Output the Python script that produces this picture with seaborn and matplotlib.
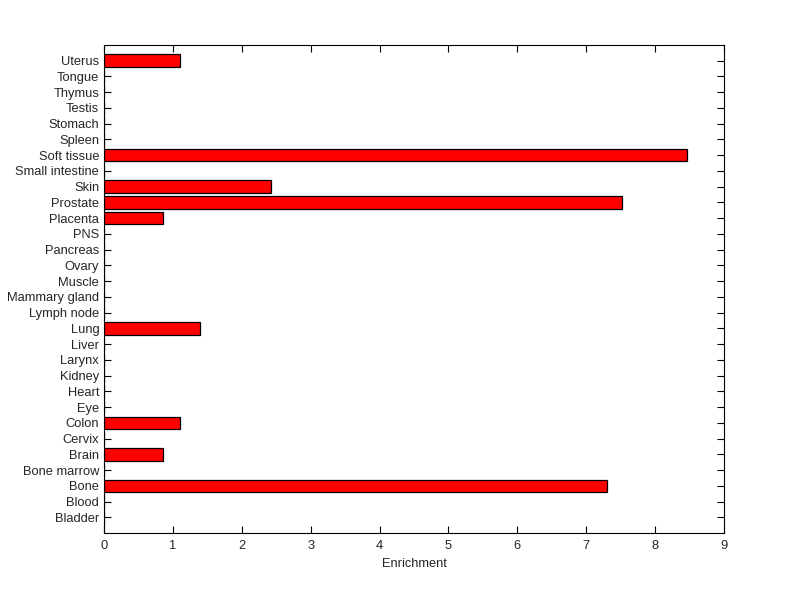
import matplotlib
matplotlib.use("Agg")
import matplotlib.pyplot as plt
import seaborn as sns
import pandas as pd

# tissues, bottom to top as in the picture
tissues = ["Bladder", "Blood", "Bone", "Bone marrow", "Brain", "Cervix", "Colon",
           "Eye", "Heart", "Kidney", "Larynx", "Liver", "Lung", "Lymph node",
           "Mammary gland", "Muscle", "Ovary", "Pancreas", "PNS", "Placenta",
           "Prostate", "Skin", "Small intestine", "Soft tissue", "Spleen",
           "Stomach", "Testis", "Thymus", "Tongue", "Uterus"]
enrichment = [0, 0, 7.30, 0, 0.85, 0, 1.11,
              0, 0, 0, 0, 0, 1.39, 0,
              0, 0, 0, 0, 0, 0.85,
              7.52, 2.42, 0, 8.46, 0,
              0, 0, 0, 0, 1.11]
x_ticks = list(range(10))

df = pd.DataFrame({"tissue": tissues, "enrichment": enrichment})

sns.set_style("white")
plt.rcParams["font.family"] = ["Liberation Sans", "DejaVu Sans"]

fig = plt.figure(figsize=(8, 5.99), dpi=100)
ax = fig.add_axes([0.13, 0.11, 0.775, 0.815])

sns.barplot(data=df, x="enrichment", y="tissue", order=tissues[::-1],
            color="red", edgecolor="black", linewidth=0.9, width=0.8,
            saturation=1, ax=ax)

ax.set_xlim(0, 9)
ax.set_ylim(len(tissues), -1)
ax.set_xticks(x_ticks)
ax.set_xlabel("Enrichment", fontsize=9.3, labelpad=4)
ax.set_ylabel("")
ax.tick_params(axis="both", direction="in", length=5, width=0.8,
               labelsize=9.3, top=True, right=True, left=True, bottom=True,
               color="black")
ax.tick_params(axis="x", pad=5)
for s in ax.spines.values():
    s.set_visible(True)
    s.set_color("black")
    s.set_linewidth(0.8)

fig.savefig("out.png", dpi=100, facecolor="white")
